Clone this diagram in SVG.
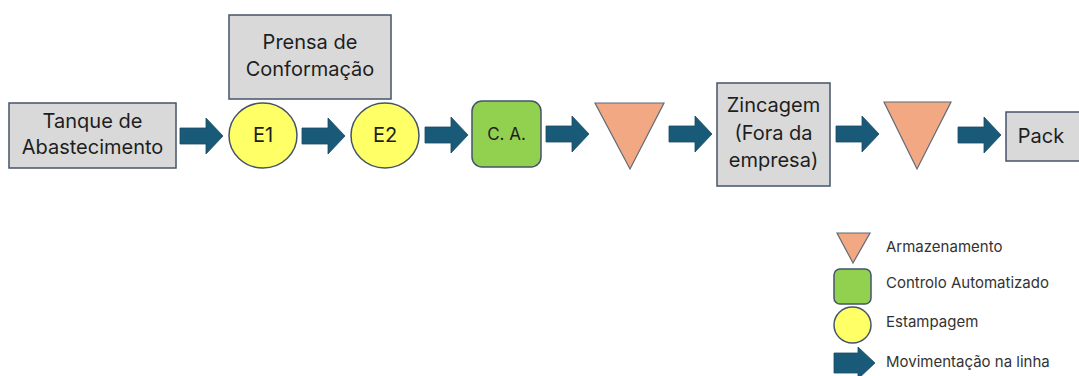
<svg xmlns="http://www.w3.org/2000/svg" width="1079" height="376" viewBox="0 0 1079 376">
  <defs>
    <style>
      .box { fill: #d9d9d9; stroke: #44546a; stroke-width: 1.5; }
      .stamp { fill: #ffff66; stroke: #44546a; stroke-width: 1.5; }
      .ctrl { fill: #92d050; stroke: #44546a; stroke-width: 1.5; }
      .store { fill: #f2a882; stroke: #5f6b78; stroke-width: 1.2; }
      .move { fill: #1a5a79; stroke: #1a4a62; stroke-width: 0.8; }
      .lbl { font-family: Inter, "Liberation Sans", Arial, sans-serif; font-size: 20px; fill: #1e1e1e; text-anchor: middle; }
      .small { font-size: 17px; }
      .leg { font-family: Inter, "Liberation Sans", Arial, sans-serif; font-size: 15px; fill: #333; }
    </style>
    <!-- block arrow, tip at (0,0), pointing right -->
    <path id="blockArrow" d="M-43,-8 L-17,-8 L-17,-18 L0,0 L-17,18 L-17,8 L-43,8 Z"/>
  </defs>

  <rect width="1079" height="376" fill="#ffffff"/>

  <!-- flow connectors -->
  <g id="connectors">
    <use href="#blockArrow" class="move" x="223" y="136"/>
    <use href="#blockArrow" class="move" x="345" y="136"/>
    <use href="#blockArrow" class="move" x="468" y="135"/>
    <use href="#blockArrow" class="move" x="589" y="134"/>
    <use href="#blockArrow" class="move" x="712" y="134"/>
    <use href="#blockArrow" class="move" x="879" y="134"/>
    <use href="#blockArrow" class="move" x="1001" y="135"/>
  </g>

  <g id="tanque">
    <rect class="box" x="9" y="103" width="167" height="65"/>
    <text class="lbl" x="92.5" y="128">Tanque de</text>
    <text class="lbl" x="92.5" y="154">Abastecimento</text>
  </g>

  <g id="prensa">
    <rect class="box" x="229" y="15" width="162" height="84"/>
    <text class="lbl" x="310" y="49">Prensa de</text>
    <text class="lbl" x="310" y="76">Conformação</text>
  </g>

  <g id="e1">
    <ellipse class="stamp" cx="263" cy="135.5" rx="34" ry="32.5"/>
    <text class="lbl" x="263" y="142">E1</text>
  </g>

  <g id="e2">
    <ellipse class="stamp" cx="385" cy="135.5" rx="34" ry="32.5"/>
    <text class="lbl" x="385" y="142">E2</text>
  </g>

  <g id="ca">
    <rect class="ctrl" x="472" y="101" width="69" height="66" rx="10"/>
    <text class="lbl small" x="506.5" y="140">C. A.</text>
  </g>

  <g id="armazem1">
    <polygon class="store" points="595,103 664,103 630,169"/>
  </g>

  <g id="zincagem">
    <rect class="box" x="717" y="83" width="113" height="103"/>
    <text class="lbl" x="773.5" y="112">Zincagem</text>
    <text class="lbl" x="773.5" y="140">(Fora da</text>
    <text class="lbl" x="773.5" y="167">empresa)</text>
  </g>

  <g id="armazem2">
    <polygon class="store" points="884,102 951,102 917,169"/>
  </g>

  <g id="pack">
    <rect class="box" x="1006" y="112" width="80" height="49"/>
    <text class="lbl" x="1041" y="143">Pack</text>
  </g>

  <!-- legend -->
  <g id="legend">
    <polygon class="store" points="837,233 870,233 853,263"/>
    <text class="leg" x="886" y="252">Armazenamento</text>
    <rect class="ctrl" x="834" y="269" width="37" height="35" rx="6"/>
    <text class="leg" x="886" y="288">Controlo Automatizado</text>
    <ellipse class="stamp" cx="852.5" cy="325" rx="18.5" ry="18"/>
    <text class="leg" x="886" y="327">Estampagem</text>
    <path class="move" d="M834,353 L858,353 L858,347 L875,363 L858,379 L858,373 L834,373 Z"/>
    <text class="leg" x="886" y="367">Movimentação na linha</text>
  </g>
</svg>
